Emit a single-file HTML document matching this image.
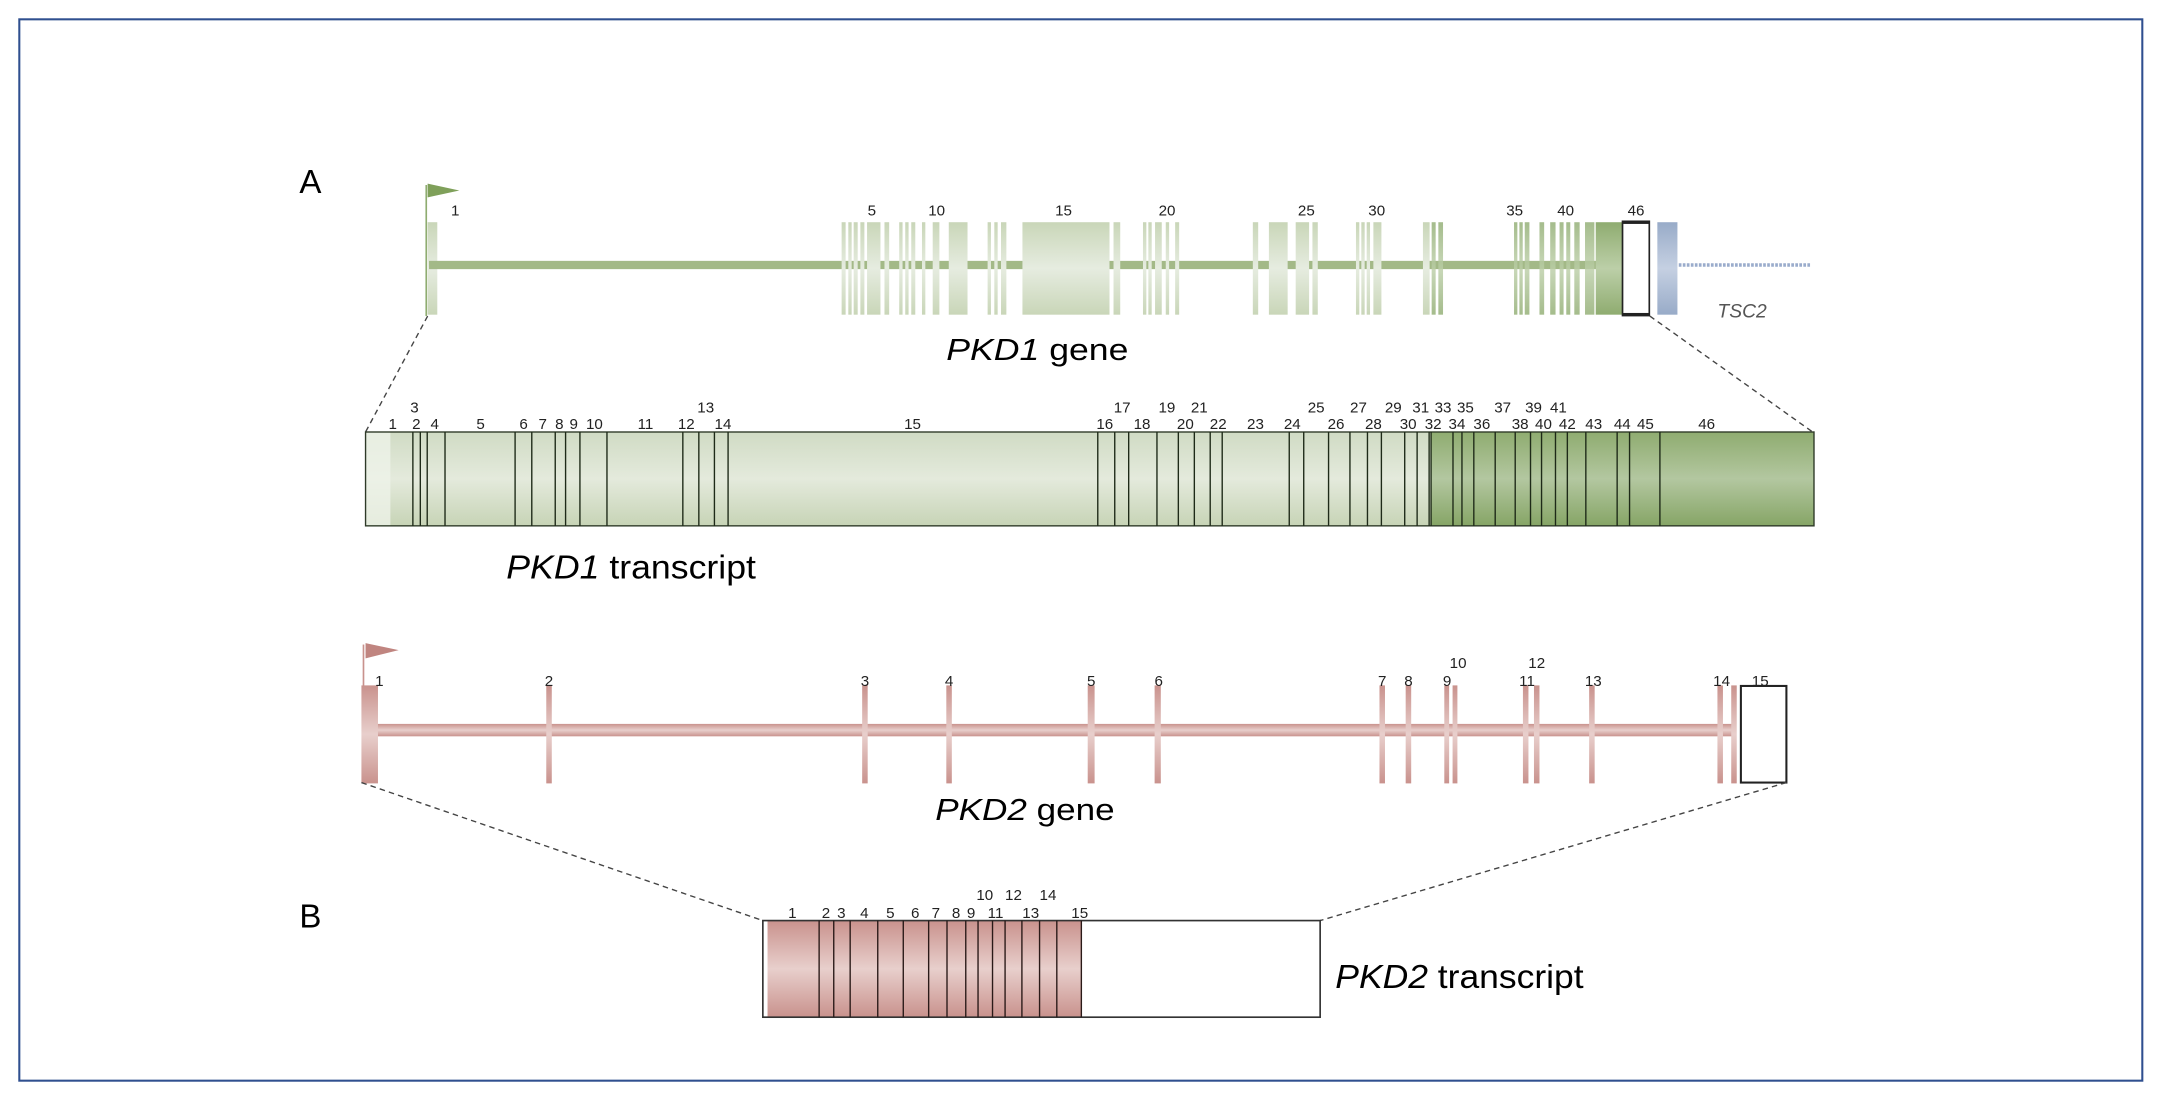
<!DOCTYPE html>
<html><head><meta charset="utf-8"><style>
html,body{margin:0;padding:0;background:#fff;}
svg{display:block;}
text{font-family:"Liberation Sans",sans-serif;}
</style></head><body>
<svg width="2163" height="1100" viewBox="0 0 1568 797" preserveAspectRatio="none" xmlns="http://www.w3.org/2000/svg">
<defs>
<linearGradient id="lg" x1="0" y1="0" x2="0" y2="1"><stop offset="0" stop-color="#c9d6b8"/><stop offset="0.5" stop-color="#e6ece0"/><stop offset="1" stop-color="#c9d6b8"/></linearGradient>
<linearGradient id="dg" x1="0" y1="0" x2="0" y2="1"><stop offset="0" stop-color="#8fac70"/><stop offset="0.5" stop-color="#bccfa8"/><stop offset="1" stop-color="#8fac70"/></linearGradient>
<linearGradient id="bg" x1="0" y1="0" x2="0" y2="1"><stop offset="0" stop-color="#98abc8"/><stop offset="0.5" stop-color="#c5d0e2"/><stop offset="1" stop-color="#98abc8"/></linearGradient>
<linearGradient id="pg" x1="0" y1="0" x2="0" y2="1"><stop offset="0" stop-color="#c9928d"/><stop offset="0.5" stop-color="#e8cfcc"/><stop offset="1" stop-color="#c9928d"/></linearGradient>
<linearGradient id="tg" x1="0" y1="0" x2="0" y2="1"><stop offset="0" stop-color="#d0dbc4"/><stop offset="0.5" stop-color="#e4eadc"/><stop offset="1" stop-color="#c7d4b6"/></linearGradient>
<linearGradient id="tdg" x1="0" y1="0" x2="0" y2="1"><stop offset="0" stop-color="#8fac70"/><stop offset="0.5" stop-color="#b3c7a0"/><stop offset="1" stop-color="#86a566"/></linearGradient>
</defs>
<rect x="14" y="14" width="1539" height="769" fill="none" stroke="#2f4f8f" stroke-width="1.5"/>
<text x="217" y="140" font-size="24">A</text>
<text x="217" y="672" font-size="24">B</text>

<!-- PKD1 gene -->
<line x1="309" y1="134" x2="309" y2="229" stroke="#8fac70" stroke-width="1.2"/>
<polygon points="310,133 333,138 310,143" fill="#7fa05a"/>
<rect x="310" y="161" width="7" height="67" fill="url(#lg)"/>
<rect x="311" y="189" width="869" height="6" fill="#a3b987"/>
<g transform="translate(580,0) scale(0.4855,1)">
<g fill="url(#lg)">
<rect x="62" y="161" width="6" height="67"/><rect x="72" y="161" width="5" height="67"/><rect x="80" y="161" width="6" height="67"/>
<rect x="90" y="161" width="6" height="67"/><rect x="100" y="161" width="20" height="67"/><rect x="126" y="161" width="7" height="67"/>
<rect x="148" y="161" width="5" height="67"/><rect x="157" y="161" width="5" height="67"/><rect x="166" y="161" width="6" height="67"/>
<rect x="182" y="161" width="5" height="67"/><rect x="198" y="161" width="10" height="67"/><rect x="222" y="161" width="28" height="67"/>
<rect x="280" y="161" width="5" height="67"/><rect x="290" y="161" width="5" height="67"/><rect x="300" y="161" width="8" height="67"/>
<rect x="332" y="161" width="130" height="67"/><rect x="468" y="161" width="10" height="67"/>
<rect x="512" y="161" width="5" height="67"/><rect x="520" y="161" width="5" height="67"/><rect x="530" y="161" width="10" height="67"/>
<rect x="546" y="161" width="5" height="67"/><rect x="560" y="161" width="6" height="67"/>
<rect x="676" y="161" width="8" height="67"/><rect x="700" y="161" width="28" height="67"/>
<rect x="740" y="161" width="20" height="67"/><rect x="765" y="161" width="8" height="67"/>
<rect x="830" y="161" width="5" height="67"/><rect x="838" y="161" width="5" height="67"/><rect x="846" y="161" width="5" height="67"/><rect x="856" y="161" width="12" height="67"/>
<rect x="930" y="161" width="10" height="67"/>
</g>
<g fill="url(#dg)" opacity="0.8">
<rect x="943" y="161" width="6" height="67"/><rect x="953" y="161" width="7" height="67"/>
<rect x="1066" y="161" width="5" height="67"/><rect x="1074" y="161" width="5" height="67"/><rect x="1082" y="161" width="7" height="67"/>
<rect x="1104" y="161" width="7" height="67"/><rect x="1120" y="161" width="8" height="67"/><rect x="1134" y="161" width="6" height="67"/>
<rect x="1144" y="161" width="6" height="67"/><rect x="1156" y="161" width="8" height="67"/><rect x="1172" y="161" width="14" height="67"/>
</g>
<rect x="1188" y="161" width="40" height="67" fill="url(#dg)"/>
<rect x="1228" y="161" width="40" height="67" fill="#fff" stroke="#222" stroke-width="2.5"/>
<rect x="1280" y="161" width="30" height="67" fill="url(#bg)"/>
<line x1="1312" y1="192" x2="1510" y2="192" stroke="#9aaccc" stroke-width="2.5" stroke-dasharray="4,2"/>
</g>
<g font-size="11" fill="#222" text-anchor="middle">
<text x="330" y="156">1</text><text x="632" y="156">5</text><text x="679" y="156">10</text><text x="771" y="156">15</text>
<text x="846" y="156">20</text><text x="947" y="156">25</text><text x="998" y="156">30</text><text x="1098" y="156">35</text>
<text x="1135" y="156">40</text><text x="1186" y="156">46</text>
</g>
<text x="1245" y="230" font-size="14" font-style="italic" fill="#555">TSC2</text>
<text x="686" y="261" font-size="22" textLength="132" lengthAdjust="spacingAndGlyphs"><tspan font-style="italic">PKD1</tspan> gene</text>
<line x1="310" y1="229" x2="265" y2="313" stroke="#444" stroke-width="1" stroke-dasharray="4,3"/>
<line x1="1196" y1="229" x2="1314" y2="313" stroke="#444" stroke-width="1" stroke-dasharray="4,3"/>

<!-- PKD1 transcript -->
<rect x="265" y="313" width="772" height="68" fill="url(#tg)"/>
<rect x="265" y="313" width="18" height="68" fill="#eef2e8" opacity="0.8"/>
<rect x="1037" y="313" width="278" height="68" fill="url(#tdg)"/>
<rect x="265" y="313" width="1050" height="68" fill="none" stroke="#2e3a28" stroke-width="1"/>
<g stroke="#1e2a18" stroke-width="1">
<line x1="299.3" y1="313" x2="299.3" y2="381"/><line x1="304.7" y1="313" x2="304.7" y2="381"/><line x1="309.7" y1="313" x2="309.7" y2="381"/><line x1="322.6" y1="313" x2="322.6" y2="381"/>
<line x1="373.4" y1="313" x2="373.4" y2="381"/><line x1="385.5" y1="313" x2="385.5" y2="381"/><line x1="402.5" y1="313" x2="402.5" y2="381"/><line x1="410" y1="313" x2="410" y2="381"/>
<line x1="420.4" y1="313" x2="420.4" y2="381"/><line x1="440" y1="313" x2="440" y2="381"/><line x1="495" y1="313" x2="495" y2="381"/><line x1="506.6" y1="313" x2="506.6" y2="381"/>
<line x1="517.9" y1="313" x2="517.9" y2="381"/><line x1="527.8" y1="313" x2="527.8" y2="381"/>
<line x1="795.8" y1="313" x2="795.8" y2="381"/><line x1="808.1" y1="313" x2="808.1" y2="381"/><line x1="818.2" y1="313" x2="818.2" y2="381"/><line x1="838.7" y1="313" x2="838.7" y2="381"/>
<line x1="854.2" y1="313" x2="854.2" y2="381"/><line x1="865.8" y1="313" x2="865.8" y2="381"/><line x1="877.3" y1="313" x2="877.3" y2="381"/><line x1="886" y1="313" x2="886" y2="381"/>
<line x1="934.6" y1="313" x2="934.6" y2="381"/><line x1="945.1" y1="313" x2="945.1" y2="381"/><line x1="963.1" y1="313" x2="963.1" y2="381"/><line x1="978.6" y1="313" x2="978.6" y2="381"/>
<line x1="991.3" y1="313" x2="991.3" y2="381"/><line x1="1001.4" y1="313" x2="1001.4" y2="381"/><line x1="1018.3" y1="313" x2="1018.3" y2="381"/><line x1="1027.3" y1="313" x2="1027.3" y2="381"/>
<line x1="1036" y1="313" x2="1036" y2="381"/><line x1="1037.4" y1="313" x2="1037.4" y2="381"/><line x1="1053.3" y1="313" x2="1053.3" y2="381"/><line x1="1059.8" y1="313" x2="1059.8" y2="381"/>
<line x1="1068.4" y1="313" x2="1068.4" y2="381"/><line x1="1083.9" y1="313" x2="1083.9" y2="381"/><line x1="1098.4" y1="313" x2="1098.4" y2="381"/><line x1="1109.5" y1="313" x2="1109.5" y2="381"/>
<line x1="1117.5" y1="313" x2="1117.5" y2="381"/><line x1="1127.6" y1="313" x2="1127.6" y2="381"/><line x1="1136.2" y1="313" x2="1136.2" y2="381"/><line x1="1149.6" y1="313" x2="1149.6" y2="381"/>
<line x1="1172.3" y1="313" x2="1172.3" y2="381"/><line x1="1181.3" y1="313" x2="1181.3" y2="381"/><line x1="1203.3" y1="313" x2="1203.3" y2="381"/>
</g>
<g font-size="11" fill="#222" text-anchor="middle">
<text x="284.7" y="311">1</text><text x="301.8" y="311">2</text><text x="315.1" y="311">4</text><text x="348.4" y="311">5</text>
<text x="379.6" y="311">6</text><text x="393.4" y="311">7</text><text x="405.5" y="311">8</text><text x="415.9" y="311">9</text>
<text x="430.9" y="311">10</text><text x="467.9" y="311">11</text><text x="497.5" y="311">12</text><text x="524.1" y="311">14</text>
<text x="661.5" y="311">15</text>
<text x="300.5" y="299">3</text><text x="511.6" y="299">13</text>
<text x="800.9" y="311">16</text><text x="827.9" y="311">18</text><text x="859.3" y="311">20</text><text x="883.1" y="311">22</text>
<text x="910.1" y="311">23</text><text x="936.8" y="311">24</text><text x="968.5" y="311">26</text><text x="995.6" y="311">28</text>
<text x="1020.8" y="311">30</text><text x="1038.9" y="311">32</text><text x="1056.2" y="311">34</text><text x="1074.2" y="311">36</text>
<text x="1102" y="311">38</text><text x="1118.9" y="311">40</text><text x="1136.2" y="311">42</text><text x="1155.3" y="311">43</text>
<text x="1176" y="311">44</text><text x="1192.8" y="311">45</text><text x="1237.2" y="311">46</text>
<text x="813.5" y="299">17</text><text x="845.9" y="299">19</text><text x="869.4" y="299">21</text><text x="954.1" y="299">25</text>
<text x="984.8" y="299">27</text><text x="1010" y="299">29</text><text x="1029.9" y="299">31</text><text x="1046.1" y="299">33</text>
<text x="1062.3" y="299">35</text><text x="1089.3" y="299">37</text><text x="1111.7" y="299">39</text><text x="1129.7" y="299">41</text>
</g>
<text x="367" y="419" font-size="24" textLength="181" lengthAdjust="spacingAndGlyphs"><tspan font-style="italic">PKD1</tspan> transcript</text>

<!-- PKD2 gene -->
<line x1="263.5" y1="467" x2="263.5" y2="497" stroke="#c9928d" stroke-width="1.2"/>
<polygon points="265,466 289,471 265,477" fill="#c08580"/>
<rect x="263" y="524.5" width="995" height="9" fill="url(#pg)"/>
<rect x="262" y="496.6" width="12" height="71" fill="url(#pg)"/>
<g fill="url(#pg)">
<rect x="396" y="496.6" width="4" height="71"/><rect x="625" y="496.6" width="4" height="71"/><rect x="686" y="496.6" width="4" height="71"/>
<rect x="788.5" y="496.6" width="5" height="71"/><rect x="837" y="496.6" width="4.5" height="71"/><rect x="1000" y="496.6" width="4" height="71"/>
<rect x="1019" y="496.6" width="4" height="71"/><rect x="1047" y="496.6" width="3.5" height="71"/><rect x="1053" y="496.6" width="3.5" height="71"/>
<rect x="1104" y="496.6" width="4" height="71"/><rect x="1112" y="496.6" width="4" height="71"/><rect x="1152" y="496.6" width="4" height="71"/>
<rect x="1245" y="496.6" width="4" height="71"/><rect x="1255" y="496.6" width="4" height="71"/>
</g>
<rect x="1262" y="497" width="33" height="70" fill="#fff" stroke="#222" stroke-width="1.5"/>
<g font-size="11" fill="#222" text-anchor="middle">
<text x="275" y="497">1</text><text x="398" y="497">2</text><text x="627" y="497">3</text><text x="688" y="497">4</text>
<text x="791" y="497">5</text><text x="840" y="497">6</text><text x="1002" y="497">7</text><text x="1021" y="497">8</text>
<text x="1049" y="497">9</text><text x="1057" y="484">10</text><text x="1107" y="497">11</text><text x="1114" y="484">12</text>
<text x="1155" y="497">13</text><text x="1248" y="497">14</text><text x="1276" y="497">15</text>
</g>
<text x="678" y="594" font-size="22" textLength="130" lengthAdjust="spacingAndGlyphs"><tspan font-style="italic">PKD2</tspan> gene</text>
<line x1="262" y1="567" x2="553" y2="667" stroke="#444" stroke-width="1" stroke-dasharray="4,3"/>
<line x1="1295" y1="567" x2="957" y2="667" stroke="#444" stroke-width="1" stroke-dasharray="4,3"/>

<!-- PKD2 transcript -->
<rect x="556.4" y="667" width="227.5" height="70" fill="url(#pg)"/>
<rect x="553" y="667" width="404" height="70" fill="none" stroke="#333" stroke-width="1.2"/>
<g stroke="#2a1a18" stroke-width="1">
<line x1="593.8" y1="667" x2="593.8" y2="737"/><line x1="604.4" y1="667" x2="604.4" y2="737"/><line x1="616.3" y1="667" x2="616.3" y2="737"/>
<line x1="636.3" y1="667" x2="636.3" y2="737"/><line x1="654.8" y1="667" x2="654.8" y2="737"/><line x1="673.2" y1="667" x2="673.2" y2="737"/>
<line x1="686.5" y1="667" x2="686.5" y2="737"/><line x1="700.1" y1="667" x2="700.1" y2="737"/><line x1="709" y1="667" x2="709" y2="737"/>
<line x1="719.5" y1="667" x2="719.5" y2="737"/><line x1="728.6" y1="667" x2="728.6" y2="737"/><line x1="740.8" y1="667" x2="740.8" y2="737"/>
<line x1="753.6" y1="667" x2="753.6" y2="737"/><line x1="766.1" y1="667" x2="766.1" y2="737"/><line x1="783.9" y1="667" x2="783.9" y2="737"/>
</g>
<g font-size="11" fill="#222" text-anchor="middle">
<text x="574.4" y="665">1</text><text x="598.8" y="665">2</text><text x="609.9" y="665">3</text><text x="626.6" y="665">4</text>
<text x="645.4" y="665">5</text><text x="663.5" y="665">6</text><text x="678.4" y="665">7</text><text x="693.1" y="665">8</text>
<text x="704" y="665">9</text><text x="721.7" y="665">11</text><text x="747.2" y="665">13</text><text x="782.7" y="665">15</text>
<text x="713.9" y="652">10</text><text x="734.7" y="652">12</text><text x="759.7" y="652">14</text>
</g>
<text x="968" y="716" font-size="24" textLength="180" lengthAdjust="spacingAndGlyphs"><tspan font-style="italic">PKD2</tspan> transcript</text>
</svg>
</body></html>
